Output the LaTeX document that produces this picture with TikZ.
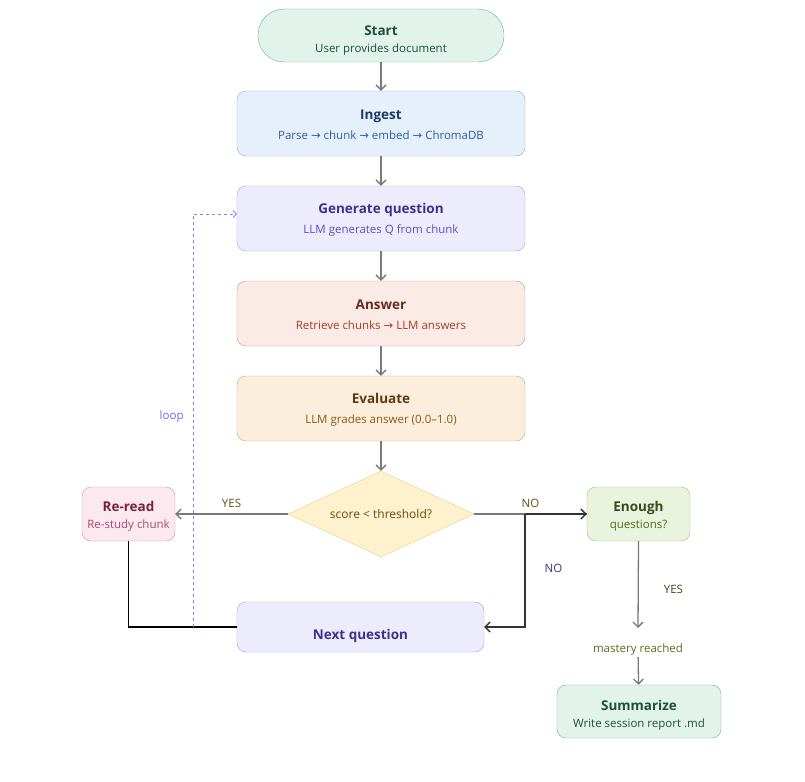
\documentclass[tikz,border=0pt]{standalone}
\usepackage{fontspec}
\setmainfont{Open Sans}
\newfontfamily\arrfont{DejaVu Sans}
\usetikzlibrary{arrows.meta,shapes.geometric}
\newcommand{\ra}{{\arrfont\char"2192}}
\definecolor{edgegray}{HTML}{7A7A7A}
\definecolor{mintfill}{HTML}{E1F3EB}
\definecolor{mintdraw}{HTML}{6BAF92}
\definecolor{minttext}{HTML}{1F4E3D}
\definecolor{bluefill}{HTML}{E6F0FB}
\definecolor{bluedraw}{HTML}{86AEDB}
\definecolor{bluetitle}{HTML}{1F3A5F}
\definecolor{bluetext}{HTML}{2B5F9E}
\definecolor{lilafill}{HTML}{EDECFC}
\definecolor{liladraw}{HTML}{A39DE2}
\definecolor{lilatitle}{HTML}{3C318F}
\definecolor{lilatext}{HTML}{5A4FC2}
\definecolor{redfill}{HTML}{FAEBE6}
\definecolor{reddraw}{HTML}{D58C74}
\definecolor{redtitle}{HTML}{6B2A1A}
\definecolor{redtext}{HTML}{A83A22}
\definecolor{orfill}{HTML}{FBEEDC}
\definecolor{ordraw}{HTML}{C9A37B}
\definecolor{ortitle}{HTML}{5A3A10}
\definecolor{ortext}{HTML}{8A5A12}
\definecolor{yelfill}{HTML}{FDF2CD}
\definecolor{yeldraw}{HTML}{E9D07C}
\definecolor{yeltext}{HTML}{6B4A10}
\definecolor{pinkfill}{HTML}{FBE9EF}
\definecolor{pinkdraw}{HTML}{D98CA6}
\definecolor{pinktitle}{HTML}{7A2040}
\definecolor{pinktext}{HTML}{A84870}
\definecolor{grnfill}{HTML}{EAF3DD}
\definecolor{grndraw}{HTML}{9AC27C}
\definecolor{grntitle}{HTML}{3A4A1A}
\definecolor{grntext}{HTML}{5A6A1A}
\definecolor{loopcol}{HTML}{8C80DE}
\tikzset{
  box/.style = {draw, rounded corners=9pt, align=center, inner sep=0pt,
    minimum width=288pt, minimum height=65pt, font=\fontsize{11.5}{20}\selectfont},
  startbox/.style = {box, rounded corners=26pt, minimum width=246pt,
    minimum height=53pt, fill=mintfill, draw=mintdraw, text=minttext,
    font=\fontsize{11.5}{16.5}\selectfont},% pill
  smallbox/.style = {box, minimum width=93pt, minimum height=54pt,
    font=\fontsize{11.5}{16.5}\selectfont},
  lbl/.style = {font=\fontsize{11.5}{13}\selectfont, inner sep=1pt},
  flow/.style = {draw=edgegray, line width=1.3pt, -{Straight Barb[length=5pt,width=10pt]}}
}
% title line (with a strut to push the pair down) and subtitle line
\newcommand{\twoline}[5][13pt]{\textcolor{#2}{\rule{0pt}{#1}\bfseries\fontsize{13.5}{20}\selectfont #4}\\\textcolor{#3}{#5}}
\begin{document}
\begin{tikzpicture}[x=1pt,y=-1pt]
\useasboundingbox (0,0) rectangle (805,781);
% main column
\node [startbox] (start) at (381,35.5) {\twoline[20pt]{minttext}{minttext}{Start}{User provides document}};
\node [box, fill=bluefill, draw=bluedraw] (ingest) at (381,123.5)
  {\twoline{bluetitle}{bluetext}{Ingest}{Parse \ra\ chunk \ra\ embed \ra\ ChromaDB}};
\node [box, fill=lilafill, draw=liladraw] (gen) at (381,218.5)
  {\twoline{lilatitle}{lilatext}{Generate question}{LLM generates Q from chunk}};
\node [box, fill=redfill, draw=reddraw] (ans) at (381,313.5)
  {\twoline{redtitle}{redtext}{Answer}{Retrieve chunks \ra\ LLM answers}};
\node [box, fill=orfill, draw=ordraw] (eval) at (381,408.5)
  {\twoline{ortitle}{ortext}{Evaluate}{LLM grades answer (0.0--1.0)}};
\node [diamond, draw=yeldraw, fill=yelfill, text=yeltext, aspect=2.16,
  minimum width=186pt, minimum height=86pt, inner sep=0pt, lbl,
  font=\fontsize{12}{13}\selectfont] (dia) at (381,514) {score < threshold?};
% side boxes
\node [smallbox, fill=pinkfill, draw=pinkdraw] (reread) at (128.5,514)
  {\twoline[15pt]{pinktitle}{pinktext}{Re-read}{Re-study chunk}};
\node [smallbox, minimum width=103pt, fill=grnfill, draw=grndraw] (enough) at (638.5,514)
  {\twoline[15pt]{grntitle}{grntext}{Enough}{questions?}};
\node [box, minimum width=247pt, minimum height=50pt, fill=lilafill, draw=liladraw] (next) at (360.5,627)
  {\strut\\[-5pt]\textcolor{lilatitle}{\bfseries\fontsize{13.5}{20}\selectfont Next question}};
\node [startbox, rounded corners=9pt, minimum width=164pt] (sum) at (639,711.5)
  {\twoline[18pt]{minttext}{minttext}{Summarize}{Write session report .md}};
\node [lbl, text=grntext] (mastery) at (638,650) {mastery reached};
\coordinate (split) at (525,514);
\coordinate (yesend) at (638,628);
\coordinate (loopfoot) at (193,627);
% connectors
\draw [flow] (start) -- (ingest);
\draw [flow] (ingest) -- (gen);
\draw [flow] (gen) -- (ans);
\draw [flow] (ans) -- (eval);
\draw [flow] (eval) -- (dia);
\draw [flow] (dia.west) -- node[above=5pt, lbl, text=yeltext] {YES} (reread.east);
\draw [draw=edgegray, line width=1.3pt] (dia.east) -- node[above=5pt, lbl, text=yeltext] {NO} (enough.west);
\draw [flow, draw=black!80] (split) -- (enough.west);
\draw [flow, draw=black!80] (split) |- node[pos=0.24, right=18pt, lbl, text=lilatitle] {NO} (next.east);
\draw [black, line width=1.1pt] (reread.south) |- (next.west);
\draw [loopcol, dashed, line width=0.9pt, -{Straight Barb[length=3pt,width=7pt]}]
  (loopfoot) -- node[pos=0.51, left=8pt, lbl, text=loopcol!80!blue] {loop} (loopfoot |- 0,214) -- ([yshift=4.5pt]gen.west);
\draw [flow] (enough.south) -- node[pos=0.55, right=24pt, lbl, text=grntitle] {YES} (yesend);
\draw [flow] (mastery) -- (sum);
\end{tikzpicture}
\end{document}
